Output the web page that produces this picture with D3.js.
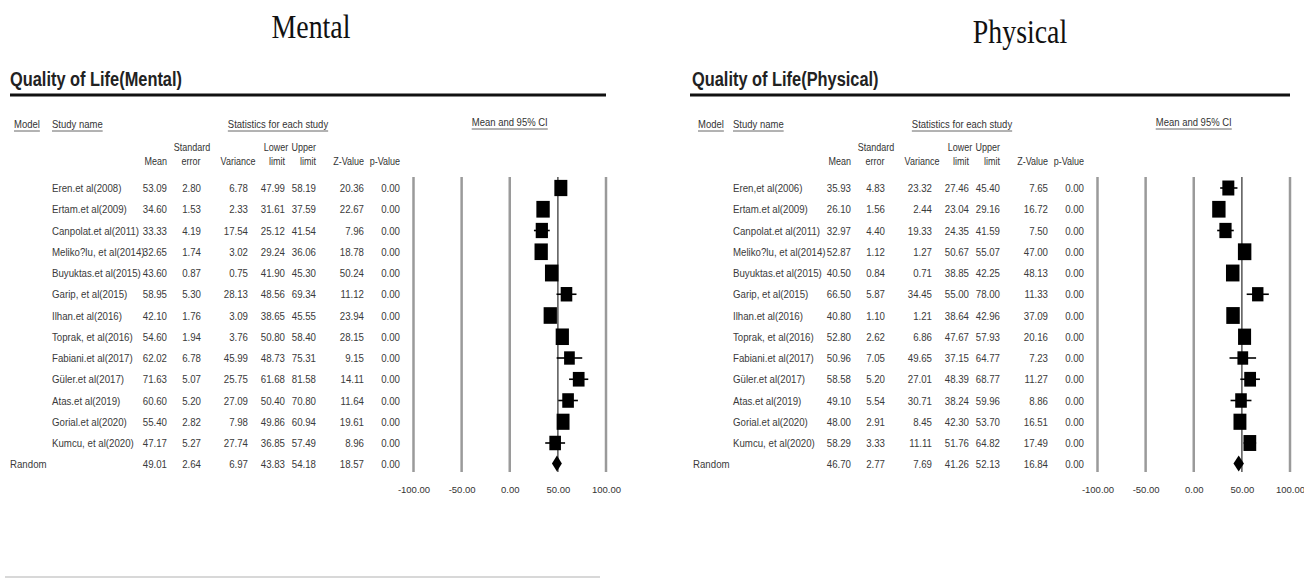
<!DOCTYPE html>
<html>
<head>
<meta charset="utf-8">
<script src="https://cdn.jsdelivr.net/npm/d3@7"></script>
<style>
  html, body { margin: 0; padding: 0; background: #fff; }
  svg { display: block; }
</style>
</head>
<body>
<div id="chart"></div>
<script>
// ---------------- DATA ----------------
const studiesMental = ["Eren.et al(2008)", "Ertam.et al(2009)", "Canpolat.et al(2011)", "Meliko?lu, et al(2014)",
  "Buyuktas.et al(2015)", "Garip, et al(2015)", "Ilhan.et al(2016)", "Toprak, et al(2016)", "Fabiani.et al(2017)",
  "Güler.et al(2017)", "Atas.et al(2019)", "Gorial.et al(2020)", "Kumcu, et al(2020)"];
const meanMental  = [53.09, 34.60, 33.33, 32.65, 43.60, 58.95, 42.10, 54.60, 62.02, 71.63, 60.60, 55.40, 47.17];
const seMental    = [2.80, 1.53, 4.19, 1.74, 0.87, 5.30, 1.76, 1.94, 6.78, 5.07, 5.20, 2.82, 5.27];
const varMental   = [6.78, 2.33, 17.54, 3.02, 0.75, 28.13, 3.09, 3.76, 45.99, 25.75, 27.09, 7.98, 27.74];
const lowerMental = [47.99, 31.61, 25.12, 29.24, 41.90, 48.56, 38.65, 50.80, 48.73, 61.68, 50.40, 49.86, 36.85];
const upperMental = [58.19, 37.59, 41.54, 36.06, 45.30, 69.34, 45.55, 58.40, 75.31, 81.58, 70.80, 60.94, 57.49];
const zMental     = [20.36, 22.67, 7.96, 18.78, 50.24, 11.12, 23.94, 28.15, 9.15, 14.11, 11.64, 19.61, 8.96];
const pMental     = [0, 0, 0, 0, 0, 0, 0, 0, 0, 0, 0, 0, 0];
// Random: mean, se, variance, lower, upper, z, p
const randomMental = [49.01, 2.64, 6.97, 43.83, 54.18, 18.57, 0.00];

const studiesPhysical = ["Eren,et al(2006)", "Ertam.et al(2009)", "Canpolat.et al(2011)", "Meliko?lu, et al(2014)",
  "Buyuktas.et al(2015)", "Garip, et al(2015)", "Ilhan.et al(2016)", "Toprak, et al(2016)", "Fabiani.et al(2017)",
  "Güler.et al(2017)", "Atas.et al(2019)", "Gorial.et al(2020)", "Kumcu, et al(2020)"];
const meanPhysical  = [35.93, 26.10, 32.97, 52.87, 40.50, 66.50, 40.80, 52.80, 50.96, 58.58, 49.10, 48.00, 58.29];
const sePhysical    = [4.83, 1.56, 4.40, 1.12, 0.84, 5.87, 1.10, 2.62, 7.05, 5.20, 5.54, 2.91, 3.33];
const varPhysical   = [23.32, 2.44, 19.33, 1.27, 0.71, 34.45, 1.21, 6.86, 49.65, 27.01, 30.71, 8.45, 11.11];
const lowerPhysical = [27.46, 23.04, 24.35, 50.67, 38.85, 55.00, 38.64, 47.67, 37.15, 48.39, 38.24, 42.30, 51.76];
const upperPhysical = [45.40, 29.16, 41.59, 55.07, 42.25, 78.00, 42.96, 57.93, 64.77, 68.77, 59.96, 53.70, 64.82];
const zPhysical     = [7.65, 16.72, 7.50, 47.00, 48.13, 11.33, 37.09, 20.16, 7.23, 11.27, 8.86, 16.51, 17.49];
const pPhysical     = [0, 0, 0, 0, 0, 0, 0, 0, 0, 0, 0, 0, 0];
const randomPhysical = [46.70, 2.77, 7.69, 41.26, 52.13, 16.84, 0.00];

// between-study variance used for random-effects weights (square sizes)
const tauSqMental = 75;
const tauSqPhysical = 83;

const axisTicks = [-100, -50, 0, 50, 100];
const axisDomain = [-100, 100];

// ---------------- LAYOUT ----------------
const W = 1304, H = 579;
const svg = d3.select("#chart").append("svg").attr("width", W).attr("height", H)
  .style("font-family", "'Liberation Sans', Arial, sans-serif");
svg.append("rect").attr("width", W).attr("height", H).attr("fill", "#fff");

function txt(g, x, y, s, o = {}) {
  const t = g.append("text")
    .attr("transform", `translate(${x},${y}) scale(${o.sx || 1},${o.sy || 1})`)
    .attr("text-anchor", o.anchor || "start")
    .attr("font-size", o.size || 11)
    .attr("font-weight", o.weight || "normal")
    .attr("fill", o.fill || "#333")
    .text(s);
  if (o.family) t.attr("font-family", o.family);
  return t;
}
function underline(g, t, x, y, anchor, sx) {
  const w = t.node().getComputedTextLength() * (sx || 1);
  let x0 = x;
  if (anchor === "middle") x0 = x - w / 2;
  if (anchor === "end") x0 = x - w;
  g.append("line").attr("x1", x0).attr("x2", x0 + w).attr("y1", y).attr("y2", y)
    .attr("stroke", "#555").attr("stroke-width", 0.9);
}

const panels = [
  { ox: 0, title: "Mental", titleX: 311, titleY: 38, heading: "Quality of Life(Mental)", nameX: 52,
    studies: studiesMental, mean: meanMental, se: seMental, v: varMental, lo: lowerMental, up: upperMental,
    z: zMental, p: pMental, random: randomMental, tau2: tauSqMental },
  { ox: 684, title: "Physical", titleX: 1020, titleY: 43, heading: "Quality of Life(Physical)", nameX: 49,
    studies: studiesPhysical, mean: meanPhysical, se: sePhysical, v: varPhysical, lo: lowerPhysical, up: upperPhysical,
    z: zPhysical, p: pPhysical, random: randomPhysical, tau2: tauSqPhysical }
];

const col = { mean: 167, se: 201, v: 248, lo: 285, up: 316, z: 364, p: 400 };
const rowY = i => 188 + i * 21.25;
const randomY = 463.5;
const gridTop = 177, gridBottom = 472;
const fmt = d => d.toFixed(2);

panels.forEach(P => {
  // big serif title
  txt(svg, P.titleX, P.titleY, P.title, { size: 34, anchor: "middle", sx: 0.82, fill: "#111",
    family: "'Liberation Serif', 'Times New Roman', serif" });

  const g = svg.append("g").attr("transform", `translate(${P.ox},0)`);

  // heading + thick rule
  txt(g, P.ox === 0 ? 10 : 8, 86, P.heading, { size: 21, weight: "bold", sx: 0.78, fill: "#222" });
  g.append("line").attr("x1", P.ox === 0 ? 10 : 6).attr("x2", 606).attr("y1", 95).attr("y2", 95)
    .attr("stroke", "#111").attr("stroke-width", 3);

  // column headers
  const hs = { size: 10, sx: 0.95, fill: "#333" };
  let t = txt(g, 14, 128, "Model", hs); underline(g, t, 14, 131, "start", 0.95);
  t = txt(g, P.nameX, 128, "Study name", hs); underline(g, t, P.nameX, 131, "start", 0.95);
  t = txt(g, 278, 128, "Statistics for each study", { ...hs, anchor: "middle" }); underline(g, t, 278, 131, "middle", 0.95);

  const sub = { size: 10, sx: 0.9, fill: "#333" };
  txt(g, col.se - 9, 151, "Standard", { ...sub, anchor: "middle" });
  txt(g, col.lo - 9, 151, "Lower", { ...sub, anchor: "middle" });
  txt(g, col.up, 151, "Upper", { ...sub, anchor: "end" });
  txt(g, col.mean, 165, "Mean", { ...sub, anchor: "end" });
  txt(g, col.se - 10, 165, "error", { ...sub, anchor: "middle" });
  txt(g, col.v - 10, 165, "Variance", { ...sub, anchor: "middle" });
  txt(g, col.lo - 8, 165, "limit", { ...sub, anchor: "middle" });
  txt(g, col.up, 165, "limit", { ...sub, anchor: "end" });
  txt(g, col.z, 165, "Z-Value", { ...sub, anchor: "end" });
  txt(g, col.p, 165, "p-Value", { ...sub, anchor: "end" });

  // data rows
  const ds = { size: 11, sx: 0.88, fill: "#3a3a3a" };
  P.studies.forEach((name, i) => {
    const y = rowY(i) + 4;
    txt(g, P.nameX, y, name, ds);
    const vals = [P.mean[i], P.se[i], P.v[i], P.lo[i], P.up[i], P.z[i], P.p[i]];
    ["mean", "se", "v", "lo", "up", "z", "p"].forEach((k, j) => {
      txt(g, col[k], y, fmt(vals[j]), { ...ds, anchor: "end" });
    });
  });
  txt(g, P.ox === 0 ? 10 : 9, randomY + 4, "Random", ds);
  ["mean", "se", "v", "lo", "up", "z", "p"].forEach((k, j) => {
    txt(g, col[k], randomY + 4, fmt(P.random[j]), { ...ds, anchor: "end" });
  });

  // forest plot
  const x = d3.scaleLinear().domain(axisDomain).range([413.5, 606]);
  t = txt(g, x(0), 126, "Mean and 95% CI", { ...hs, anchor: "middle" }); underline(g, t, x(0), 129, "middle", 0.95);

  g.selectAll("line.grid").data(axisTicks.filter(d => d !== 50)).enter().append("line")
    .attr("class", "grid")
    .attr("x1", d => x(d)).attr("x2", d => x(d)).attr("y1", gridTop).attr("y2", gridBottom)
    .attr("stroke", "#9a9a9a").attr("stroke-width", 2.5);
  g.append("line").attr("x1", x(50)).attr("x2", x(50)).attr("y1", gridTop).attr("y2", gridBottom)
    .attr("stroke", "#555").attr("stroke-width", 1.5);

  const axis = d3.axisBottom(x).tickValues(axisTicks).tickFormat(fmt).tickSize(0).tickPadding(14);
  const ag = g.append("g").attr("transform", `translate(0,${gridBottom})`).call(axis);
  ag.select(".domain").remove();
  ag.attr("font-family", "'Liberation Sans', Arial, sans-serif");
  ag.selectAll("text").attr("font-size", 9.5).attr("fill", "#333");

  const weights = P.v.map(v => 1 / (v + P.tau2));
  const wMax = d3.max(weights);
  const side = d3.scaleSqrt().domain([0, wMax]).range([0, 13.5]);

  const rows = P.studies.map((s, i) => ({ i, m: P.mean[i], lo: P.lo[i], up: P.up[i], w: weights[i] }));
  g.selectAll("line.ci").data(rows).enter().append("line").attr("class", "ci")
    .attr("x1", d => x(d.lo)).attr("x2", d => x(d.up))
    .attr("y1", d => rowY(d.i)).attr("y2", d => rowY(d.i))
    .attr("stroke", "#000").attr("stroke-width", 1.6);
  g.selectAll("rect.sq").data(rows).enter().append("rect").attr("class", "sq")
    .attr("x", d => x(d.m) - side(d.w) / 2)
    .attr("y", d => rowY(d.i) - side(d.w) * 1.25 / 2)
    .attr("width", d => side(d.w))
    .attr("height", d => side(d.w) * 1.25)
    .attr("fill", "#000");

  const r = P.random;
  const dh = 8;
  g.append("path")
    .attr("d", `M${x(r[3])},${randomY} L${x(r[0])},${randomY - dh} L${x(r[4])},${randomY} L${x(r[0])},${randomY + dh} Z`)
    .attr("fill", "#000");
});

// faint bottom rule
svg.append("line").attr("x1", 5).attr("x2", 600).attr("y1", 577).attr("y2", 577)
  .attr("stroke", "#d8d8d8").attr("stroke-width", 2);
</script>
</body>
</html>
